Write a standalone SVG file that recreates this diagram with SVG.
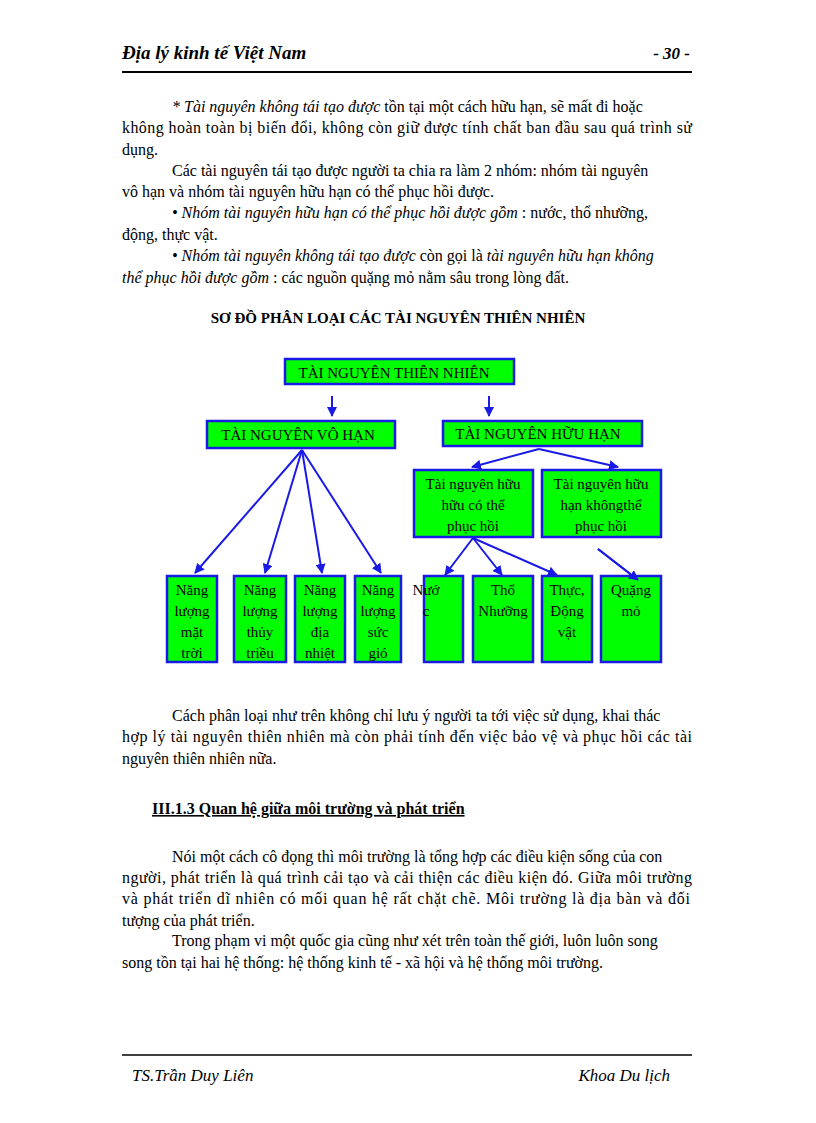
<svg xmlns="http://www.w3.org/2000/svg" width="816" height="1123" viewBox="0 0 816 1123">
<style>
text{font-family:"Liberation Serif",serif;fill:#000}
.b{font-size:16px}
.n rect{fill:#00FF00;stroke:#1A1AE6;stroke-width:2.5}
.n text{font-size:15px;text-anchor:middle}
.c line{stroke:#1A1AE6;stroke-width:2;marker-end:url(#a)}
</style>
<defs><marker id="a" viewBox="0 0 10 10" refX="9" refY="5" markerWidth="5" markerHeight="5" orient="auto"><path d="M0,0L10,5L0,10z" fill="#1A1AE6"/></marker></defs>
<rect width="816" height="1123" fill="#fff"/>
<text x="122" y="59" font-size="19" font-weight="bold" font-style="italic">Địa lý kinh tế Việt Nam</text>
<text x="690" y="59" font-size="17" font-weight="bold" font-style="italic" text-anchor="end">- 30 -</text>
<line x1="122" y1="72" x2="692" y2="72" stroke="#000" stroke-width="2"/>
<g class="b">
<text x="172" y="112" class="b"><tspan font-style="italic">* Tài nguyên không tái tạo được</tspan> tồn tại một cách hữu hạn, sẽ mất đi hoặc</text>
<text x="122" y="133" class="b" textLength="570">không hoàn toàn bị biến đổi, không còn giữ được tính chất ban đầu sau quá trình  sử</text>
<text x="122" y="155" class="b">dụng.</text>
<text x="172" y="176" class="b">Các tài nguyên tái tạo được người ta chia ra làm 2 nhóm: nhóm tài nguyên</text>
<text x="122" y="197" class="b">vô hạn và nhóm tài nguyên hữu hạn có thể phục hồi được.</text>
<text x="172" y="218" class="b"><tspan font-style="italic">• Nhóm tài nguyên hữu hạn có thể phục hồi được gồm</tspan> : nước, thổ nhưỡng,</text>
<text x="122" y="240" class="b">động, thực vật.</text>
<text x="172" y="261" class="b"><tspan font-style="italic">• Nhóm tài nguyên không tái tạo được</tspan> còn gọi là <tspan font-style="italic">tài nguyên hữu hạn không</tspan></text>
<text x="122" y="283" class="b"><tspan font-style="italic">thể phục hồi được gồm</tspan> : các nguồn quặng mỏ nằm sâu trong lòng đất.</text>
</g>
<text x="398" y="323" font-size="15" font-weight="bold" text-anchor="middle">SƠ ĐỒ PHÂN LOẠI CÁC TÀI NGUYÊN THIÊN NHIÊN</text>
<g class="c">
<line x1="332" y1="396" x2="332" y2="416"/>
<line x1="489" y1="396" x2="489" y2="416"/>
<line x1="302" y1="450" x2="195" y2="573"/>
<line x1="302" y1="450" x2="265" y2="573"/>
<line x1="302" y1="450" x2="322" y2="573"/>
<line x1="302" y1="450" x2="381" y2="573"/>
<line x1="539" y1="449" x2="472" y2="467"/>
<line x1="539" y1="449" x2="618" y2="467"/>
<line x1="473" y1="538" x2="445" y2="575"/>
<line x1="473" y1="538" x2="502" y2="575"/>
<line x1="473" y1="538" x2="557" y2="575"/>
<line x1="598" y1="549" x2="638" y2="580"/>
</g>
<g class="n" id="n0"><rect x="285" y="359" width="229" height="25"/><text x="394" y="378">TÀI NGUYÊN THIÊN NHIÊN</text></g>
<g class="n" id="n1"><rect x="207" y="421" width="188" height="27"/><text x="298" y="440">TÀI NGUYÊN VÔ HẠN</text></g>
<g class="n" id="n2"><rect x="443" y="421" width="199" height="25"/><text x="538" y="439">TÀI NGUYÊN HỮU HẠN</text></g>
<g class="n" id="n3"><rect x="414" y="470" width="119" height="67"/><text x="473" y="489">Tài nguyên hữu</text><text x="473" y="510">hữu có thể</text><text x="473" y="531">phục hồi</text></g>
<g class="n" id="n4"><rect x="542" y="470" width="119" height="67"/><text x="601" y="489">Tài nguyên hữu</text><text x="601" y="510">hạn khôngthể</text><text x="601" y="531">phục hồi</text></g>
<g class="n" id="n5"><rect x="167" y="576" width="50" height="86"/><text x="192" y="595">Năng</text><text x="192" y="616">lượng</text><text x="192" y="637">mặt</text><text x="192" y="658">trời</text></g>
<g class="n" id="n6"><rect x="234" y="576" width="52" height="86"/><text x="260" y="595">Năng</text><text x="260" y="616">lượng</text><text x="260" y="637">thủy</text><text x="260" y="658">triều</text></g>
<g class="n" id="n7"><rect x="295" y="576" width="50" height="86"/><text x="320" y="595">Năng</text><text x="320" y="616">lượng</text><text x="320" y="637">địa</text><text x="320" y="658">nhiệt</text></g>
<g class="n" id="n8"><rect x="355" y="576" width="46" height="86"/><text x="378" y="595">Năng</text><text x="378" y="616">lượng</text><text x="378" y="637">sức</text><text x="378" y="658">gió</text></g>
<g class="n" id="n9"><rect x="424" y="576" width="39" height="86"/><text x="426" y="595" text-anchor="start">Nướ</text><text x="426" y="616" text-anchor="start">c</text></g>
<g class="n" id="n10"><rect x="473" y="576" width="60" height="86"/><text x="503" y="595">Thổ</text><text x="503" y="616">Nhưỡng</text></g>
<g class="n" id="n11"><rect x="542" y="576" width="50" height="86"/><text x="567" y="595">Thực,</text><text x="567" y="616">Động</text><text x="567" y="637">vật</text></g>
<g class="n" id="n12"><rect x="601" y="576" width="60" height="86"/><text x="631" y="595">Quặng</text><text x="631" y="616">mỏ</text></g>
<line x1="598" y1="549" x2="638" y2="580" stroke="#1A1AE6" stroke-width="2" marker-end="url(#a)"/>
<text x="172" y="721" class="b">Cách phân loại như trên không chỉ lưu ý người ta tới việc sử dụng, khai thác</text>
<text x="122" y="742" class="b" textLength="570">hợp lý tài nguyên thiên nhiên mà còn phải tính đến việc bảo vệ và phục hồi các tài</text>
<text x="122" y="764" class="b">nguyên thiên nhiên nữa.</text>
<text x="152" y="814" font-size="16" font-weight="bold" text-decoration="underline">III.1.3  Quan hệ giữa môi trường và phát triển</text>
<text x="172" y="862" class="b">Nói một cách cô đọng thì môi trường là tổng hợp các điều kiện sống của con</text>
<text x="122" y="883" class="b" textLength="570">người, phát triển là quá trình cải tạo và cải thiện các điều kiện đó. Giữa môi trường</text>
<text x="122" y="904" class="b" textLength="568">và phát triển dĩ nhiên có mối quan hệ rất chặt chẽ. Môi trường là địa bàn và đối</text>
<text x="122" y="926" class="b">tượng của phát triển.</text>
<text x="172" y="946" class="b">Trong phạm vi một quốc gia cũng như xét trên toàn thế giới, luôn luôn song</text>
<text x="122" y="968" class="b">song tồn tại hai hệ thống: hệ thống kinh tế - xã hội và hệ thống môi trường.</text>
<line x1="122" y1="1055" x2="692" y2="1055" stroke="#000" stroke-width="1.5"/>
<text x="132" y="1081" font-size="17" font-style="italic">TS.Trần Duy Liên</text>
<text x="670" y="1081" font-size="17" font-style="italic" text-anchor="end">Khoa Du lịch</text>
</svg>
